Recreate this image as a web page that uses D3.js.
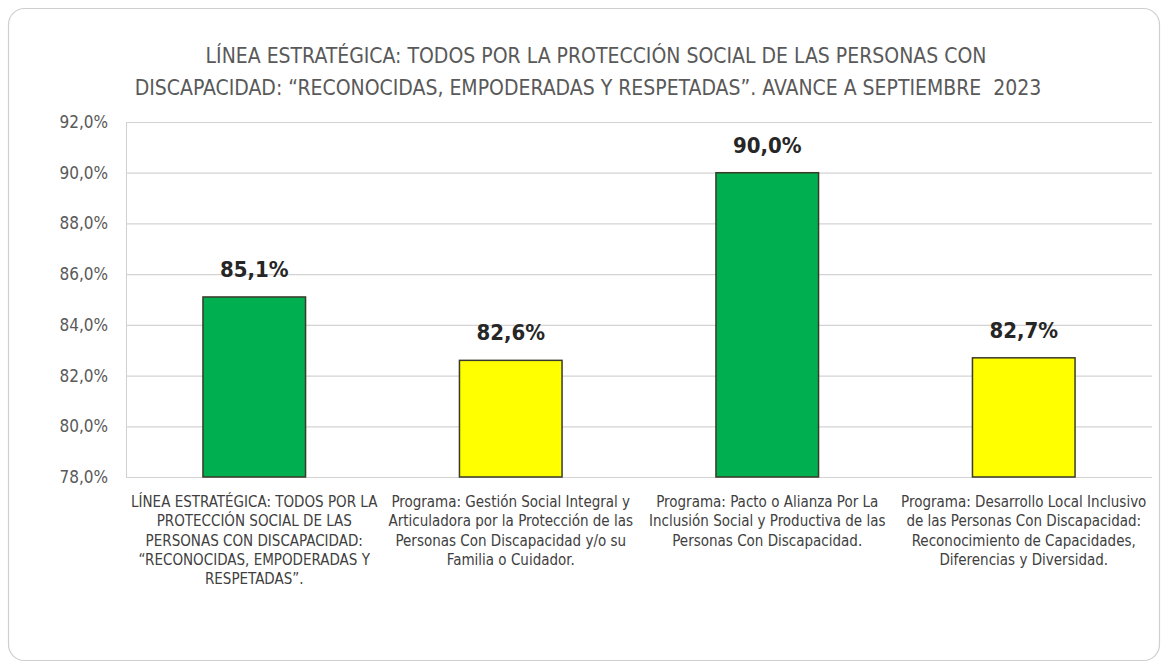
<!DOCTYPE html>
<html>
<head>
<meta charset="utf-8">
<script src="https://cdn.jsdelivr.net/npm/d3@7"></script>
<style>
  body { margin: 0; background: #fff; }
  svg { display: block; font-family: "Liberation Sans Narrow", "DejaVu Sans Condensed", sans-serif; }
</style>
</head>
<body>
<div class="chart"></div>
<script>
// data
const titleLines = [
  "LÍNEA ESTRATÉGICA: TODOS POR LA PROTECCIÓN SOCIAL DE LAS PERSONAS CON",
  "DISCAPACIDAD: “RECONOCIDAS, EMPODERADAS Y RESPETADAS”. AVANCE A SEPTIEMBRE  2023"
];
const categories = [
  "LÍNEA ESTRATÉGICA: TODOS POR LA\nPROTECCIÓN SOCIAL DE LAS\nPERSONAS CON DISCAPACIDAD:\n“RECONOCIDAS, EMPODERADAS Y\nRESPETADAS”.",
  "Programa: Gestión Social Integral y\nArticuladora por la Protección de las\nPersonas Con Discapacidad y/o su\nFamilia o Cuidador.",
  "Programa: Pacto o Alianza Por La\nInclusión Social y Productiva de las\nPersonas Con Discapacidad.",
  "Programa: Desarrollo Local Inclusivo\nde las Personas Con Discapacidad:\nReconocimiento de Capacidades,\nDiferencias y Diversidad."
];
const values = [0.851, 0.826, 0.900, 0.827];
const barColors = ["#00B050", "#FFFF00", "#00B050", "#FFFF00"];
const yTicks = [0.78, 0.80, 0.82, 0.84, 0.86, 0.88, 0.90, 0.92];

const width = 1167, height = 666;
const margin = ({top: 122, right: 15, bottom: 189, left: 126});

const locale = d3.formatLocale({decimal: ",", thousands: ".", grouping: [3], currency: ["", ""]});
const pct = locale.format(".1%");

const svg = d3.select(".chart").append("svg")
    .attr("width", width)
    .attr("height", height);

// card
svg.append("rect")
    .attr("x", 8.5).attr("y", 8.5)
    .attr("width", 1151).attr("height", 652)
    .attr("rx", 16)
    .attr("fill", "#fff")
    .attr("stroke", "#cfcfcf")
    .attr("stroke-width", 1.2);

// title
svg.append("text")
    .attr("text-anchor", "middle")
    .attr("fill", "#595959")
    .attr("font-size", 21)
    .style("white-space", "pre")
    .selectAll("tspan")
    .data(titleLines)
    .join("tspan")
    .attr("x", (d, i) => i === 0 ? 596 : 588)
    .attr("y", (d, i) => 63 + i * 32)
    .text(d => d);

// scales
const xScale = d3.scaleBand()
    .domain(categories)
    .range([margin.left, width - margin.right])
    .paddingInner(0.6)
    .paddingOuter(0.3);
const yScale = d3.scaleLinear()
    .domain([0.78, 0.92])
    .range([height - margin.bottom, margin.top]);

// grid + y axis
const yAxis = d3.axisLeft(yScale)
    .tickValues(yTicks)
    .tickFormat(pct)
    .tickSize(-(width - margin.right - margin.left))
    .tickPadding(18);

const gy = svg.append("g")
    .attr("class", "axis y-axis")
    .attr("transform", "translate(" + margin.left + ",0)")
    .call(yAxis);
gy.select(".domain").attr("stroke", "#d0d0d0");
gy.selectAll(".tick line").attr("stroke", "#d3d3d3").attr("stroke-width", 1.2);
gy.selectAll(".tick text")
    .attr("fill", "#595959")
    .attr("font-size", 17)
    .attr("font-family", "Liberation Sans Narrow, DejaVu Sans Condensed, sans-serif");

// bars
svg.selectAll(".bar")
    .data(values)
    .join("rect")
    .attr("class", "bar")
    .attr("x", (d, i) => xScale(categories[i]))
    .attr("y", d => yScale(d))
    .attr("width", xScale.bandwidth())
    .attr("height", d => yScale(0.78) - yScale(d))
    .attr("fill", (d, i) => barColors[i])
    .attr("stroke", "#3a3a2a")
    .attr("stroke-width", 1.5);

// value labels
svg.selectAll(".val")
    .data(values)
    .join("text")
    .attr("class", "val")
    .attr("x", (d, i) => xScale(categories[i]) + xScale.bandwidth() / 2)
    .attr("y", d => yScale(d) - 20)
    .attr("text-anchor", "middle")
    .attr("font-size", 22)
    .attr("font-weight", "bold")
    .attr("fill", "#262626")
    .text(d => pct(d));

// x labels
const xl = svg.selectAll(".xlab")
    .data(categories)
    .join("text")
    .attr("class", "xlab")
    .attr("text-anchor", "middle")
    .attr("font-size", 15)
    .attr("fill", "#404040");
xl.selectAll("tspan")
    .data(d => d.split("\n").map(t => ({cat: d, t})))
    .join("tspan")
    .attr("x", d => xScale(d.cat) + xScale.bandwidth() / 2)
    .attr("y", (d, i) => height - margin.bottom + 30 + i * 19.3)
    .text(d => d.t);
</script>
</body>
</html>
